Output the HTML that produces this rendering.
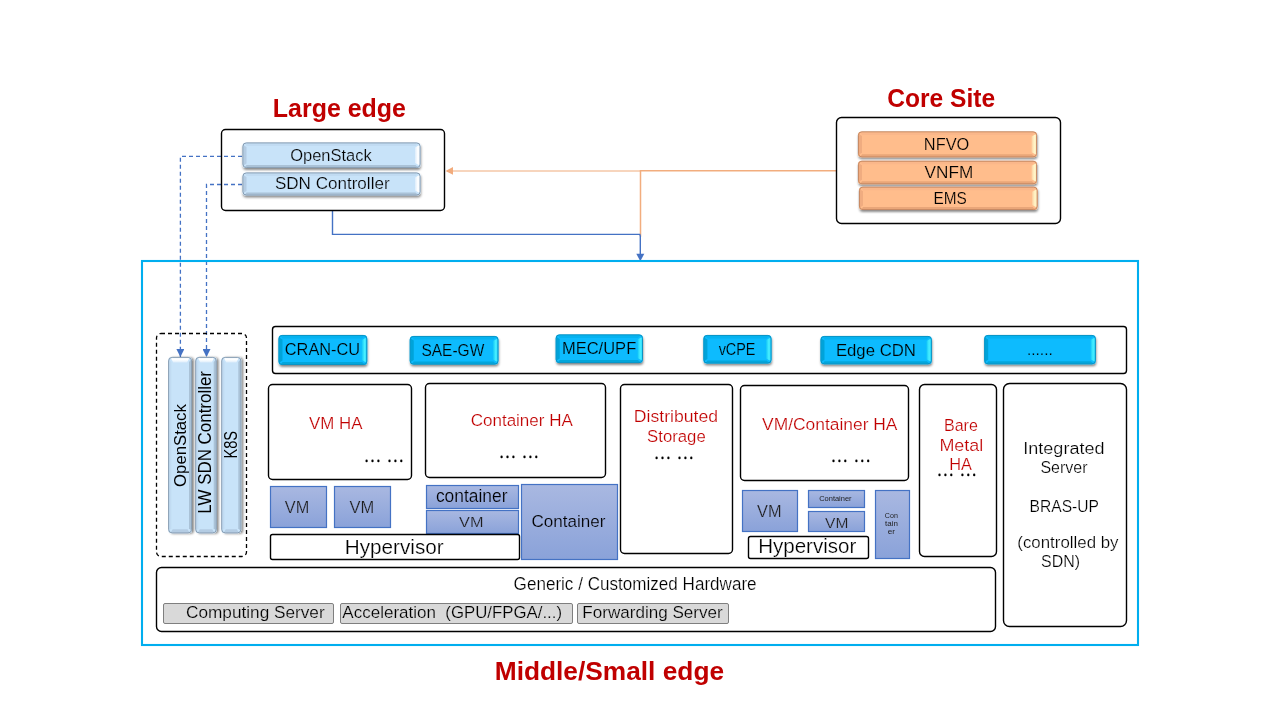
<!DOCTYPE html>
<html><head><meta charset="utf-8"><style>
html,body{margin:0;padding:0;background:#fff;}
svg{display:block;font-family:"Liberation Sans", sans-serif;will-change:transform;}
</style></head><body>
<svg width="1280" height="720" viewBox="0 0 1280 720">
<defs>
<filter id="shadow" x="-10%" y="-30%" width="120%" height="170%">
  <feDropShadow dx="0.5" dy="2" stdDeviation="1.2" flood-color="#000" flood-opacity="0.45"/>
</filter>
<linearGradient id="gBlue" x1="0" y1="0" x2="0" y2="1">
  <stop offset="0" stop-color="#9fb6cc"/><stop offset="0.08" stop-color="#c4dcf2"/>
  <stop offset="0.85" stop-color="#c6e0f6"/><stop offset="1" stop-color="#8ea4ba"/>
</linearGradient>
<linearGradient id="hBlue" x1="0" y1="0" x2="1" y2="0">
  <stop offset="0" stop-color="#c6e0f6"/><stop offset="0.5" stop-color="#ffffff"/><stop offset="1" stop-color="#ffffff"/>
</linearGradient>
<linearGradient id="gBlueV" x1="0" y1="0" x2="1" y2="0">
  <stop offset="0" stop-color="#9fb6cc"/><stop offset="0.1" stop-color="#c4dcf2"/>
  <stop offset="0.85" stop-color="#c6e0f6"/><stop offset="1" stop-color="#8ea4ba"/>
</linearGradient>
<linearGradient id="hBlueV" x1="0" y1="1" x2="0" y2="0">
  <stop offset="0" stop-color="#c6e0f6"/><stop offset="0.5" stop-color="#ffffff"/><stop offset="1" stop-color="#ffffff"/>
</linearGradient>
<linearGradient id="gCyan" x1="0" y1="0" x2="0" y2="1">
  <stop offset="0" stop-color="#0098cc"/><stop offset="0.1" stop-color="#00b4ee"/>
  <stop offset="0.85" stop-color="#00b8f2"/><stop offset="1" stop-color="#0088bb"/>
</linearGradient>
<linearGradient id="hCyan" x1="0" y1="0" x2="1" y2="0">
  <stop offset="0" stop-color="#00b8f2"/><stop offset="0.6" stop-color="#40e4ff"/><stop offset="1" stop-color="#30d8ff"/>
</linearGradient>
<linearGradient id="gOr" x1="0" y1="0" x2="0" y2="1">
  <stop offset="0" stop-color="#d89870"/><stop offset="0.1" stop-color="#fbb98b"/>
  <stop offset="0.85" stop-color="#fdbb8e"/><stop offset="1" stop-color="#c98460"/>
</linearGradient>
<linearGradient id="hOr" x1="0" y1="0" x2="1" y2="0">
  <stop offset="0" stop-color="#fdbb8e"/><stop offset="0.55" stop-color="#fff2c8"/><stop offset="1" stop-color="#ffe8b8"/>
</linearGradient>
<linearGradient id="hi_blue" x1="0" y1="0" x2="1" y2="0"><stop offset="0" stop-color="#dcecfb"/><stop offset="0.6" stop-color="#ffffff"/><stop offset="1" stop-color="#f4faff"/></linearGradient>
<linearGradient id="hi_cyan" x1="0" y1="0" x2="1" y2="0"><stop offset="0" stop-color="#10c4f8"/><stop offset="0.6" stop-color="#48f0ff"/><stop offset="1" stop-color="#30dcff"/></linearGradient>
<linearGradient id="hi_orange" x1="0" y1="0" x2="1" y2="0"><stop offset="0" stop-color="#fdd0a0"/><stop offset="0.6" stop-color="#fff6c8"/><stop offset="1" stop-color="#ffeabb"/></linearGradient>
<linearGradient id="hiV" x1="0" y1="1" x2="0" y2="0"><stop offset="0" stop-color="#dcecfb"/><stop offset="0.6" stop-color="#ffffff"/><stop offset="1" stop-color="#f4faff"/></linearGradient>
<filter id="shadowV" x="-30%" y="-10%" width="170%" height="120%">
  <feDropShadow dx="2" dy="0.5" stdDeviation="1.2" flood-color="#000" flood-opacity="0.45"/>
</filter>
<linearGradient id="gVM" x1="0" y1="0" x2="0" y2="1">
  <stop offset="0" stop-color="#a9b8e1"/><stop offset="1" stop-color="#8aa2d9"/>
</linearGradient>
<marker id="arrBlue" viewBox="0 0 10 10" refX="10" refY="5" markerWidth="8" markerHeight="8" markerUnits="userSpaceOnUse" orient="auto">
  <path d="M0,0 L10,5 L0,10 z" fill="#4472c4"/>
</marker>
<marker id="arrOr" viewBox="0 0 10 10" refX="10" refY="5" markerWidth="8" markerHeight="8" markerUnits="userSpaceOnUse" orient="auto">
  <path d="M0,0 L10,5 L0,10 z" fill="#f4b183"/>
</marker>
</defs>

<polyline points="640.5,170.9 447,170.9" fill="none" stroke="#f7d5bd" stroke-width="2"/>
<path d="M445.5,170.9 L453,167 L453,174.8 Z" fill="#f2ab7c"/>
<polyline points="836,170.8 640.5,170.8 640.5,236.8" fill="none" stroke="#f2ad7e" stroke-width="1.5"/>
<polyline points="332.5,210.5 332.5,234.4 639.8,234.4 640.3,236 640.3,255" fill="none" stroke="#4472c4" stroke-width="1.4"/>
<path d="M640.3,261.3 L636.3,253.8 L644.3,253.8 Z" fill="#4472c4"/>
<polyline points="242,156.3 180.4,156.3 180.4,357" fill="none" stroke="#4472c4" stroke-width="1.3" stroke-dasharray="4,3" marker-end="url(#arrBlue)"/>
<polyline points="242,184.5 206.5,184.5 206.5,357" fill="none" stroke="#4472c4" stroke-width="1.3" stroke-dasharray="4,3" marker-end="url(#arrBlue)"/>
<rect x="221.5" y="129.5" width="223.0" height="81.0" rx="4" fill="none" stroke="#000" stroke-width="1.4" />
<rect x="242.5" y="142.5" width="178.0" height="25.5" rx="3.5" fill="#c8e3f9" filter="url(#shadow)"/>
<path d="M243.3,145.0 L246.5,147.0 L246.5,163.5 L243.3,165.5 Z" fill="#b4cce3"/>
<path d="M245.0,143.3 L418.0,143.3 L415.5,146.0 L246.5,146.0 Z" fill="#bcd5ec" opacity="0.6"/>
<path d="M245.0,167.2 L418.0,167.2 L415.5,165.0 L246.5,165.0 Z" fill="#9cb3c9" opacity="0.7"/>
<path d="M419.7,145.0 L415.0,147.5 L415.0,163.0 L419.7,165.5 Z" fill="url(#hi_blue)"/>
<rect x="242.9" y="142.9" width="177.2" height="24.7" rx="3.5" fill="none" stroke="#74889c" stroke-width="0.9" opacity="0.85"/>
<rect x="242.5" y="172.5" width="178.0" height="23.0" rx="3.5" fill="#c8e3f9" filter="url(#shadow)"/>
<path d="M243.3,175.0 L246.5,177.0 L246.5,191.0 L243.3,193.0 Z" fill="#b4cce3"/>
<path d="M245.0,173.3 L418.0,173.3 L415.5,176.0 L246.5,176.0 Z" fill="#bcd5ec" opacity="0.6"/>
<path d="M245.0,194.7 L418.0,194.7 L415.5,192.5 L246.5,192.5 Z" fill="#9cb3c9" opacity="0.7"/>
<path d="M419.7,175.0 L415.0,177.5 L415.0,190.5 L419.7,193.0 Z" fill="url(#hi_blue)"/>
<rect x="242.9" y="172.9" width="177.2" height="22.2" rx="3.5" fill="none" stroke="#74889c" stroke-width="0.9" opacity="0.85"/>
<rect x="836.5" y="117.5" width="224.0" height="106.0" rx="5" fill="none" stroke="#000" stroke-width="1.4" />
<rect x="858" y="131.4" width="179" height="25.900000000000006" rx="3.5" fill="#ffbd8c" filter="url(#shadow)"/>
<path d="M858.8,133.9 L862.0,135.9 L862.0,152.8 L858.8,154.8 Z" fill="#f0ac80"/>
<path d="M860.5,132.20000000000002 L1034.5,132.20000000000002 L1032.0,134.9 L862.0,134.9 Z" fill="#f6b388" opacity="0.6"/>
<path d="M860.5,156.5 L1034.5,156.5 L1032.0,154.3 L862.0,154.3 Z" fill="#e09c70" opacity="0.7"/>
<path d="M1036.2,133.9 L1031.5,136.4 L1031.5,152.3 L1036.2,154.8 Z" fill="url(#hi_orange)"/>
<rect x="858.4" y="131.8" width="178.2" height="25.100000000000005" rx="3.5" fill="none" stroke="#b27654" stroke-width="0.9" opacity="0.85"/>
<rect x="858" y="160.8" width="179" height="23.399999999999977" rx="3.5" fill="#ffbd8c" filter="url(#shadow)"/>
<path d="M858.8,163.3 L862.0,165.3 L862.0,179.7 L858.8,181.7 Z" fill="#f0ac80"/>
<path d="M860.5,161.60000000000002 L1034.5,161.60000000000002 L1032.0,164.3 L862.0,164.3 Z" fill="#f6b388" opacity="0.6"/>
<path d="M860.5,183.39999999999998 L1034.5,183.39999999999998 L1032.0,181.2 L862.0,181.2 Z" fill="#e09c70" opacity="0.7"/>
<path d="M1036.2,163.3 L1031.5,165.8 L1031.5,179.2 L1036.2,181.7 Z" fill="url(#hi_orange)"/>
<rect x="858.4" y="161.20000000000002" width="178.2" height="22.599999999999977" rx="3.5" fill="none" stroke="#b27654" stroke-width="0.9" opacity="0.85"/>
<rect x="859" y="186.7" width="178.5999999999999" height="23.30000000000001" rx="3.5" fill="#ffbd8c" filter="url(#shadow)"/>
<path d="M859.8,189.2 L863.0,191.2 L863.0,205.5 L859.8,207.5 Z" fill="#f0ac80"/>
<path d="M861.5,187.5 L1035.1,187.5 L1032.6,190.2 L863.0,190.2 Z" fill="#f6b388" opacity="0.6"/>
<path d="M861.5,209.2 L1035.1,209.2 L1032.6,207.0 L863.0,207.0 Z" fill="#e09c70" opacity="0.7"/>
<path d="M1036.8,189.2 L1032.1,191.7 L1032.1,205.0 L1036.8,207.5 Z" fill="url(#hi_orange)"/>
<rect x="859.4" y="187.1" width="177.7999999999999" height="22.50000000000001" rx="3.5" fill="none" stroke="#b27654" stroke-width="0.9" opacity="0.85"/>
<rect x="142" y="261" width="996" height="384" rx="0" fill="none" stroke="#00aeef" stroke-width="2.1" />
<rect x="156.5" y="333.5" width="90.0" height="223.0" rx="4.5" fill="none" stroke="#000" stroke-width="1.3" stroke-dasharray="4,3"/>
<rect x="168.2" y="357" width="23.80000000000001" height="176.29999999999995" rx="3.5" fill="#c8e3f9" filter="url(#shadowV)"/>
<path d="M170.7,532.5 L172.7,529.3 L187.5,529.3 L189.5,532.5 Z" fill="#b4cce3"/>
<path d="M169.0,359.5 L169.0,530.8 L171.2,528.3 L171.2,362.0 Z" fill="#bcd5ec" opacity="0.6"/>
<path d="M191.2,359.5 L191.2,530.8 L189.0,528.3 L189.0,362.0 Z" fill="#9cb3c9" opacity="0.7"/>
<path d="M170.7,357.8 L173.2,362.5 L187.0,362.5 L189.5,357.8 Z" fill="url(#hiV)"/>
<rect x="168.6" y="357.4" width="23.00000000000001" height="175.49999999999994" rx="3.5" fill="none" stroke="#74889c" stroke-width="0.9" opacity="0.85"/>
<rect x="195.3" y="357" width="21.399999999999977" height="176.29999999999995" rx="3.5" fill="#c8e3f9" filter="url(#shadowV)"/>
<path d="M197.8,532.5 L199.8,529.3 L212.2,529.3 L214.2,532.5 Z" fill="#b4cce3"/>
<path d="M196.10000000000002,359.5 L196.10000000000002,530.8 L198.3,528.3 L198.3,362.0 Z" fill="#bcd5ec" opacity="0.6"/>
<path d="M215.89999999999998,359.5 L215.89999999999998,530.8 L213.7,528.3 L213.7,362.0 Z" fill="#9cb3c9" opacity="0.7"/>
<path d="M197.8,357.8 L200.3,362.5 L211.7,362.5 L214.2,357.8 Z" fill="url(#hiV)"/>
<rect x="195.70000000000002" y="357.4" width="20.599999999999977" height="175.49999999999994" rx="3.5" fill="none" stroke="#74889c" stroke-width="0.9" opacity="0.85"/>
<rect x="221.3" y="357" width="20.0" height="176.29999999999995" rx="3.5" fill="#c8e3f9" filter="url(#shadowV)"/>
<path d="M223.8,532.5 L225.8,529.3 L236.8,529.3 L238.8,532.5 Z" fill="#b4cce3"/>
<path d="M222.10000000000002,359.5 L222.10000000000002,530.8 L224.3,528.3 L224.3,362.0 Z" fill="#bcd5ec" opacity="0.6"/>
<path d="M240.5,359.5 L240.5,530.8 L238.3,528.3 L238.3,362.0 Z" fill="#9cb3c9" opacity="0.7"/>
<path d="M223.8,357.8 L226.3,362.5 L236.3,362.5 L238.8,357.8 Z" fill="url(#hiV)"/>
<rect x="221.70000000000002" y="357.4" width="19.2" height="175.49999999999994" rx="3.5" fill="none" stroke="#74889c" stroke-width="0.9" opacity="0.85"/>
<text transform="translate(186.2,445.55) rotate(-90)" x="0" y="0" font-size="17.4" text-anchor="middle" textLength="82.8" lengthAdjust="spacingAndGlyphs">OpenStack</text>
<text transform="translate(211.2,442.35) rotate(-90)" x="0" y="0" font-size="17.6" text-anchor="middle" textLength="142.6" lengthAdjust="spacingAndGlyphs">LW SDN Controller</text>
<text transform="translate(236.8,444.7) rotate(-90)" x="0" y="0" font-size="17.6" text-anchor="middle" textLength="27.6" lengthAdjust="spacingAndGlyphs">K8S</text>
<rect x="272.5" y="326.5" width="854.0" height="47.0" rx="3" fill="none" stroke="#000" stroke-width="1.4" />
<rect x="278.5" y="335" width="88.69999999999999" height="30" rx="3.5" fill="#07bbfe" filter="url(#shadow)"/>
<path d="M279.3,337.5 L282.5,339.5 L282.5,360.5 L279.3,362.5 Z" fill="#00a3d9"/>
<path d="M281.0,335.8 L364.7,335.8 L362.2,338.5 L282.5,338.5 Z" fill="#00aee6" opacity="0.6"/>
<path d="M281.0,364.2 L364.7,364.2 L362.2,362.0 L282.5,362.0 Z" fill="#009ccc" opacity="0.7"/>
<path d="M366.4,337.5 L361.7,340.0 L361.7,360.0 L366.4,362.5 Z" fill="url(#hi_cyan)"/>
<rect x="278.9" y="335.4" width="87.89999999999999" height="29.2" rx="3.5" fill="none" stroke="#0a86b0" stroke-width="0.9" opacity="0.85"/>
<rect x="409.75" y="336" width="88.64999999999998" height="28.600000000000023" rx="3.5" fill="#07bbfe" filter="url(#shadow)"/>
<path d="M410.55,338.5 L413.75,340.5 L413.75,360.1 L410.55,362.1 Z" fill="#00a3d9"/>
<path d="M412.25,336.8 L495.9,336.8 L493.4,339.5 L413.75,339.5 Z" fill="#00aee6" opacity="0.6"/>
<path d="M412.25,363.8 L495.9,363.8 L493.4,361.6 L413.75,361.6 Z" fill="#009ccc" opacity="0.7"/>
<path d="M497.59999999999997,338.5 L492.9,341.0 L492.9,359.6 L497.59999999999997,362.1 Z" fill="url(#hi_cyan)"/>
<rect x="410.15" y="336.4" width="87.84999999999998" height="27.800000000000022" rx="3.5" fill="none" stroke="#0a86b0" stroke-width="0.9" opacity="0.85"/>
<rect x="555.7" y="334.4" width="87.19999999999993" height="28.700000000000045" rx="3.5" fill="#07bbfe" filter="url(#shadow)"/>
<path d="M556.5,336.9 L559.7,338.9 L559.7,358.6 L556.5,360.6 Z" fill="#00a3d9"/>
<path d="M558.2,335.2 L640.4,335.2 L637.9,337.9 L559.7,337.9 Z" fill="#00aee6" opacity="0.6"/>
<path d="M558.2,362.3 L640.4,362.3 L637.9,360.1 L559.7,360.1 Z" fill="#009ccc" opacity="0.7"/>
<path d="M642.1,336.9 L637.4,339.4 L637.4,358.1 L642.1,360.6 Z" fill="url(#hi_cyan)"/>
<rect x="556.1" y="334.79999999999995" width="86.39999999999993" height="27.900000000000045" rx="3.5" fill="none" stroke="#0a86b0" stroke-width="0.9" opacity="0.85"/>
<rect x="703.4" y="335" width="68.10000000000002" height="28.5" rx="3.5" fill="#07bbfe" filter="url(#shadow)"/>
<path d="M704.1999999999999,337.5 L707.4,339.5 L707.4,359.0 L704.1999999999999,361.0 Z" fill="#00a3d9"/>
<path d="M705.9,335.8 L769.0,335.8 L766.5,338.5 L707.4,338.5 Z" fill="#00aee6" opacity="0.6"/>
<path d="M705.9,362.7 L769.0,362.7 L766.5,360.5 L707.4,360.5 Z" fill="#009ccc" opacity="0.7"/>
<path d="M770.7,337.5 L766.0,340.0 L766.0,358.5 L770.7,361.0 Z" fill="url(#hi_cyan)"/>
<rect x="703.8" y="335.4" width="67.30000000000003" height="27.7" rx="3.5" fill="none" stroke="#0a86b0" stroke-width="0.9" opacity="0.85"/>
<rect x="820.5" y="336" width="111.29999999999995" height="28.30000000000001" rx="3.5" fill="#07bbfe" filter="url(#shadow)"/>
<path d="M821.3,338.5 L824.5,340.5 L824.5,359.8 L821.3,361.8 Z" fill="#00a3d9"/>
<path d="M823.0,336.8 L929.3,336.8 L926.8,339.5 L824.5,339.5 Z" fill="#00aee6" opacity="0.6"/>
<path d="M823.0,363.5 L929.3,363.5 L926.8,361.3 L824.5,361.3 Z" fill="#009ccc" opacity="0.7"/>
<path d="M931.0,338.5 L926.3,341.0 L926.3,359.3 L931.0,361.8 Z" fill="url(#hi_cyan)"/>
<rect x="820.9" y="336.4" width="110.49999999999996" height="27.50000000000001" rx="3.5" fill="none" stroke="#0a86b0" stroke-width="0.9" opacity="0.85"/>
<rect x="984.2" y="335" width="111.59999999999991" height="29.30000000000001" rx="3.5" fill="#07bbfe" filter="url(#shadow)"/>
<path d="M985.0,337.5 L988.2,339.5 L988.2,359.8 L985.0,361.8 Z" fill="#00a3d9"/>
<path d="M986.7,335.8 L1093.3,335.8 L1090.8,338.5 L988.2,338.5 Z" fill="#00aee6" opacity="0.6"/>
<path d="M986.7,363.5 L1093.3,363.5 L1090.8,361.3 L988.2,361.3 Z" fill="#009ccc" opacity="0.7"/>
<path d="M1095.0,337.5 L1090.3,340.0 L1090.3,359.3 L1095.0,361.8 Z" fill="url(#hi_cyan)"/>
<rect x="984.6" y="335.4" width="110.79999999999991" height="28.50000000000001" rx="3.5" fill="none" stroke="#0a86b0" stroke-width="0.9" opacity="0.85"/>
<rect x="268.5" y="384.5" width="143.0" height="95.0" rx="4" fill="none" stroke="#000" stroke-width="1.4" />
<ellipse cx="366.6" cy="460.9" rx="1.15" ry="1.35" fill="#000"/>
<ellipse cx="372.5" cy="460.9" rx="1.15" ry="1.35" fill="#000"/>
<ellipse cx="378.4" cy="460.9" rx="1.15" ry="1.35" fill="#000"/>
<ellipse cx="389.5" cy="460.9" rx="1.15" ry="1.35" fill="#000"/>
<ellipse cx="395.4" cy="460.9" rx="1.15" ry="1.35" fill="#000"/>
<ellipse cx="401.3" cy="460.9" rx="1.15" ry="1.35" fill="#000"/>
<rect x="425.5" y="383.5" width="180.0" height="94.0" rx="4" fill="none" stroke="#000" stroke-width="1.4" />
<ellipse cx="501.6" cy="456.9" rx="1.15" ry="1.35" fill="#000"/>
<ellipse cx="507.5" cy="456.9" rx="1.15" ry="1.35" fill="#000"/>
<ellipse cx="513.4" cy="456.9" rx="1.15" ry="1.35" fill="#000"/>
<ellipse cx="524.5" cy="456.9" rx="1.15" ry="1.35" fill="#000"/>
<ellipse cx="530.4" cy="456.9" rx="1.15" ry="1.35" fill="#000"/>
<ellipse cx="536.3" cy="456.9" rx="1.15" ry="1.35" fill="#000"/>
<rect x="620.5" y="384.5" width="112.0" height="169.0" rx="4" fill="none" stroke="#000" stroke-width="1.4" />
<ellipse cx="656.6" cy="457.9" rx="1.15" ry="1.35" fill="#000"/>
<ellipse cx="662.5" cy="457.9" rx="1.15" ry="1.35" fill="#000"/>
<ellipse cx="668.4" cy="457.9" rx="1.15" ry="1.35" fill="#000"/>
<ellipse cx="679.5" cy="457.9" rx="1.15" ry="1.35" fill="#000"/>
<ellipse cx="685.4" cy="457.9" rx="1.15" ry="1.35" fill="#000"/>
<ellipse cx="691.3" cy="457.9" rx="1.15" ry="1.35" fill="#000"/>
<rect x="740.5" y="385.5" width="168.0" height="95.0" rx="4" fill="none" stroke="#000" stroke-width="1.4" />
<ellipse cx="833.5" cy="460.9" rx="1.15" ry="1.35" fill="#000"/>
<ellipse cx="839.4" cy="460.9" rx="1.15" ry="1.35" fill="#000"/>
<ellipse cx="845.3" cy="460.9" rx="1.15" ry="1.35" fill="#000"/>
<ellipse cx="856.4" cy="460.9" rx="1.15" ry="1.35" fill="#000"/>
<ellipse cx="862.3" cy="460.9" rx="1.15" ry="1.35" fill="#000"/>
<ellipse cx="868.2" cy="460.9" rx="1.15" ry="1.35" fill="#000"/>
<rect x="919.5" y="384.5" width="77.0" height="172.0" rx="5" fill="none" stroke="#000" stroke-width="1.4" />
<ellipse cx="939.5" cy="474.9" rx="1.15" ry="1.35" fill="#000"/>
<ellipse cx="945.4" cy="474.9" rx="1.15" ry="1.35" fill="#000"/>
<ellipse cx="951.3" cy="474.9" rx="1.15" ry="1.35" fill="#000"/>
<ellipse cx="962.4" cy="474.9" rx="1.15" ry="1.35" fill="#000"/>
<ellipse cx="968.3" cy="474.9" rx="1.15" ry="1.35" fill="#000"/>
<ellipse cx="974.2" cy="474.9" rx="1.15" ry="1.35" fill="#000"/>
<rect x="1003.5" y="383.5" width="123.0" height="243.0" rx="6" fill="none" stroke="#000" stroke-width="1.4" />
<rect x="270.5" y="486.5" width="56.0" height="41.0" rx="0" fill="url(#gVM)" stroke="#4472c4" stroke-width="1.2" />
<rect x="334.5" y="486.5" width="56.0" height="41.0" rx="0" fill="url(#gVM)" stroke="#4472c4" stroke-width="1.2" />
<rect x="426.5" y="485.5" width="92.0" height="23.0" rx="0" fill="url(#gVM)" stroke="#4472c4" stroke-width="1.2" />
<rect x="426.5" y="510.5" width="92.0" height="23.0" rx="0" fill="url(#gVM)" stroke="#4472c4" stroke-width="1.2" />
<rect x="270.5" y="534.5" width="249.0" height="25.0" rx="2" fill="#fff" stroke="#000" stroke-width="1.4" />
<rect x="521.5" y="484.5" width="96.0" height="75.0" rx="0" fill="url(#gVM)" stroke="#4472c4" stroke-width="1.2" />
<rect x="742.5" y="490.5" width="55.0" height="41.0" rx="0" fill="url(#gVM)" stroke="#4472c4" stroke-width="1.2" />
<rect x="808.5" y="490.5" width="56.0" height="17.0" rx="0" fill="url(#gVM)" stroke="#4472c4" stroke-width="1.2" />
<rect x="808.5" y="511.5" width="56.0" height="20.0" rx="0" fill="url(#gVM)" stroke="#4472c4" stroke-width="1.2" />
<rect x="748.5" y="536.5" width="120.0" height="22.0" rx="2" fill="#fff" stroke="#000" stroke-width="1.4" />
<rect x="875.5" y="490.5" width="34.0" height="68.0" rx="0" fill="url(#gVM)" stroke="#4472c4" stroke-width="1.2" />
<rect x="156.5" y="567.5" width="839.0" height="64.0" rx="5" fill="none" stroke="#000" stroke-width="1.4" />
<rect x="163.5" y="603.5" width="170.0" height="20.0" rx="1.5" fill="#d9d9d9" stroke="#7f7f7f" stroke-width="1" />
<rect x="340.5" y="603.5" width="232.0" height="20.0" rx="1.5" fill="#d9d9d9" stroke="#7f7f7f" stroke-width="1" />
<rect x="577.5" y="603.5" width="151.0" height="20.0" rx="1.5" fill="#d9d9d9" stroke="#7f7f7f" stroke-width="1" />
<text x="272.82" y="116.9" font-size="26.6" fill="#c00000" font-weight="bold" text-anchor="start" textLength="133.15" lengthAdjust="spacingAndGlyphs" >Large edge</text>
<text x="887.3" y="107.0" font-size="26.2" fill="#c00000" font-weight="bold" text-anchor="start" textLength="107.89" lengthAdjust="spacingAndGlyphs" >Core Site</text>
<text x="494.74" y="679.5" font-size="25.0" fill="#c00000" font-weight="bold" text-anchor="start" textLength="229.36" lengthAdjust="spacingAndGlyphs" >Middle/Small edge</text>
<text x="290.14" y="160.75" font-size="17.2" fill="#000" font-weight="normal" text-anchor="start" textLength="81.67" lengthAdjust="spacingAndGlyphs" stroke="#c8e3f9" stroke-width="0.22">OpenStack</text>
<text x="274.91" y="188.75" font-size="17.2" fill="#000" font-weight="normal" text-anchor="start" textLength="114.7" lengthAdjust="spacingAndGlyphs" stroke="#c8e3f9" stroke-width="0.22">SDN Controller</text>
<text x="923.84" y="149.8" font-size="17.0" fill="#000" font-weight="normal" text-anchor="start" textLength="45.47" lengthAdjust="spacingAndGlyphs" stroke="#ffbd8c" stroke-width="0.22">NFVO</text>
<text x="924.64" y="177.8" font-size="17.0" fill="#000" font-weight="normal" text-anchor="start" textLength="48.69" lengthAdjust="spacingAndGlyphs" stroke="#ffbd8c" stroke-width="0.22">VNFM</text>
<text x="933.55" y="203.7" font-size="17.0" fill="#000" font-weight="normal" text-anchor="start" textLength="33.32" lengthAdjust="spacingAndGlyphs" stroke="#ffbd8c" stroke-width="0.22">EMS</text>
<text x="284.84" y="354.7" font-size="16.4" fill="#000" font-weight="normal" text-anchor="start" textLength="75.3" lengthAdjust="spacingAndGlyphs" stroke="#07bbfe" stroke-width="0.22">CRAN-CU</text>
<text x="421.47" y="355.8" font-size="16.8" fill="#000" font-weight="normal" text-anchor="start" textLength="62.77" lengthAdjust="spacingAndGlyphs" stroke="#07bbfe" stroke-width="0.22">SAE-GW</text>
<text x="561.95" y="353.75" font-size="16.9" fill="#000" font-weight="normal" text-anchor="start" textLength="74.28" lengthAdjust="spacingAndGlyphs" stroke="#07bbfe" stroke-width="0.22">MEC/UPF</text>
<text x="718.66" y="355.0" font-size="16.7" fill="#000" font-weight="normal" text-anchor="start" textLength="36.81" lengthAdjust="spacingAndGlyphs" stroke="#07bbfe" stroke-width="0.22">vCPE</text>
<text x="835.9" y="355.6" font-size="16.9" fill="#000" font-weight="normal" text-anchor="start" textLength="80.0" lengthAdjust="spacingAndGlyphs" stroke="#07bbfe" stroke-width="0.22">Edge CDN</text>
<text x="1026.95" y="354.8" font-size="16.8" fill="#000" font-weight="normal" text-anchor="start" textLength="25.86" lengthAdjust="spacingAndGlyphs" stroke="#07bbfe" stroke-width="0.22">......</text>
<text x="309.06" y="429.3" font-size="17.4" fill="#c00000" font-weight="normal" text-anchor="start" textLength="53.48" lengthAdjust="spacingAndGlyphs" stroke="#fff" stroke-width="0.22">VM HA</text>
<text x="470.72" y="425.9" font-size="16.8" fill="#c00000" font-weight="normal" text-anchor="start" textLength="102.09" lengthAdjust="spacingAndGlyphs" stroke="#fff" stroke-width="0.22">Container HA</text>
<text x="633.78" y="421.8" font-size="17.2" fill="#c00000" font-weight="normal" text-anchor="start" textLength="84.27" lengthAdjust="spacingAndGlyphs" stroke="#fff" stroke-width="0.22">Distributed</text>
<text x="647.1" y="441.9" font-size="17.2" fill="#c00000" font-weight="normal" text-anchor="start" textLength="58.62" lengthAdjust="spacingAndGlyphs" stroke="#fff" stroke-width="0.22">Storage</text>
<text x="762.05" y="430.0" font-size="17.4" fill="#c00000" font-weight="normal" text-anchor="start" textLength="135.41" lengthAdjust="spacingAndGlyphs" stroke="#fff" stroke-width="0.22">VM/Container HA</text>
<text x="943.94" y="430.8" font-size="16.6" fill="#c00000" font-weight="normal" text-anchor="start" textLength="33.92" lengthAdjust="spacingAndGlyphs" stroke="#fff" stroke-width="0.22">Bare</text>
<text x="939.43" y="450.7" font-size="16.6" fill="#c00000" font-weight="normal" text-anchor="start" textLength="43.89" lengthAdjust="spacingAndGlyphs" stroke="#fff" stroke-width="0.22">Metal</text>
<text x="949.34" y="469.5" font-size="16.6" fill="#c00000" font-weight="normal" text-anchor="start" textLength="22.7" lengthAdjust="spacingAndGlyphs" stroke="#fff" stroke-width="0.22">HA</text>
<text x="1023.34" y="453.5" font-size="16.0" fill="#000" font-weight="normal" text-anchor="start" textLength="81.13" lengthAdjust="spacingAndGlyphs" stroke="#fff" stroke-width="0.22">Integrated</text>
<text x="1040.45" y="473.3" font-size="16.0" fill="#000" font-weight="normal" text-anchor="start" textLength="47.08" lengthAdjust="spacingAndGlyphs" stroke="#fff" stroke-width="0.22">Server</text>
<text x="1029.61" y="511.7" font-size="16.4" fill="#000" font-weight="normal" text-anchor="start" textLength="69.33" lengthAdjust="spacingAndGlyphs" stroke="#fff" stroke-width="0.22">BRAS-UP</text>
<text x="1017.32" y="548.3" font-size="16.2" fill="#000" font-weight="normal" text-anchor="start" textLength="101.19" lengthAdjust="spacingAndGlyphs" stroke="#fff" stroke-width="0.22">(controlled by</text>
<text x="1041.03" y="566.5" font-size="16.2" fill="#000" font-weight="normal" text-anchor="start" textLength="38.97" lengthAdjust="spacingAndGlyphs" stroke="#fff" stroke-width="0.22">SDN)</text>
<text x="284.86" y="513.05" font-size="16.1" fill="#1e1e1e" font-weight="normal" text-anchor="start" textLength="24.4" lengthAdjust="spacingAndGlyphs" stroke="#9cade0" stroke-width="0.22">VM</text>
<text x="349.5" y="513.05" font-size="16.1" fill="#1e1e1e" font-weight="normal" text-anchor="start" textLength="24.75" lengthAdjust="spacingAndGlyphs" stroke="#9cade0" stroke-width="0.22">VM</text>
<text x="344.82" y="553.75" font-size="19.7" fill="#000" font-weight="normal" text-anchor="start" textLength="98.91" lengthAdjust="spacingAndGlyphs" stroke="#fff" stroke-width="0.22">Hypervisor</text>
<text x="435.88" y="501.9" font-size="17.6" fill="#000" font-weight="normal" text-anchor="start" textLength="71.56" lengthAdjust="spacingAndGlyphs" stroke="#9cade0" stroke-width="0.22">container</text>
<text x="459.06" y="526.6" font-size="15.1" fill="#1e1e1e" font-weight="normal" text-anchor="start" textLength="24.39" lengthAdjust="spacingAndGlyphs" stroke="#9cade0" stroke-width="0.22">VM</text>
<text x="531.48" y="526.7" font-size="16.4" fill="#000" font-weight="normal" text-anchor="start" textLength="74.0" lengthAdjust="spacingAndGlyphs" stroke="#9cade0" stroke-width="0.22">Container</text>
<text x="757.08" y="516.8" font-size="15.7" fill="#1e1e1e" font-weight="normal" text-anchor="start" textLength="24.5" lengthAdjust="spacingAndGlyphs" stroke="#9cade0" stroke-width="0.22">VM</text>
<text x="819.17" y="501.1" font-size="7.8" fill="#1e1e1e" font-weight="normal" text-anchor="start" textLength="32.45" lengthAdjust="spacingAndGlyphs" >Container</text>
<text x="825.13" y="527.5" font-size="14.8" fill="#1e1e1e" font-weight="normal" text-anchor="start" textLength="23.27" lengthAdjust="spacingAndGlyphs" stroke="#9cade0" stroke-width="0.22">VM</text>
<text x="758.2" y="553.4" font-size="19.8" fill="#000" font-weight="normal" text-anchor="start" textLength="98.12" lengthAdjust="spacingAndGlyphs" stroke="#fff" stroke-width="0.22">Hypervisor</text>
<text x="513.61" y="590.2" font-size="17.6" fill="#000" font-weight="normal" text-anchor="start" textLength="242.99" lengthAdjust="spacingAndGlyphs" stroke="#fff" stroke-width="0.22">Generic / Customized Hardware</text>
<text x="185.99" y="617.8" font-size="16.4" fill="#000" font-weight="normal" text-anchor="start" textLength="138.68" lengthAdjust="spacingAndGlyphs" stroke="#d9d9d9" stroke-width="0.22">Computing Server</text>
<text x="582.35" y="617.75" font-size="16.4" fill="#000" font-weight="normal" text-anchor="start" textLength="140.44" lengthAdjust="spacingAndGlyphs" stroke="#d9d9d9" stroke-width="0.22">Forwarding Server</text>
<text x="884.86" y="517.9" font-size="8.1" fill="#1e1e1e" font-weight="normal" text-anchor="start" textLength="13.01" lengthAdjust="spacingAndGlyphs" >Con</text>
<text x="884.98" y="525.8" font-size="8.1" fill="#1e1e1e" font-weight="normal" text-anchor="start" textLength="12.89" lengthAdjust="spacingAndGlyphs" >tain</text>
<text x="887.82" y="533.7" font-size="8.1" fill="#1e1e1e" font-weight="normal" text-anchor="start" textLength="7.26" lengthAdjust="spacingAndGlyphs" >er</text>
<text x="342.34" y="617.6" font-size="16.4" fill="#000" font-weight="normal" text-anchor="start" textLength="93.64" lengthAdjust="spacingAndGlyphs" stroke="#d9d9d9" stroke-width="0.22">Acceleration</text>
<text x="445.35" y="617.6" font-size="16.4" fill="#000" font-weight="normal" text-anchor="start" textLength="116.67" lengthAdjust="spacingAndGlyphs" stroke="#d9d9d9" stroke-width="0.22">(GPU/FPGA/...)</text>
</svg></body></html>
